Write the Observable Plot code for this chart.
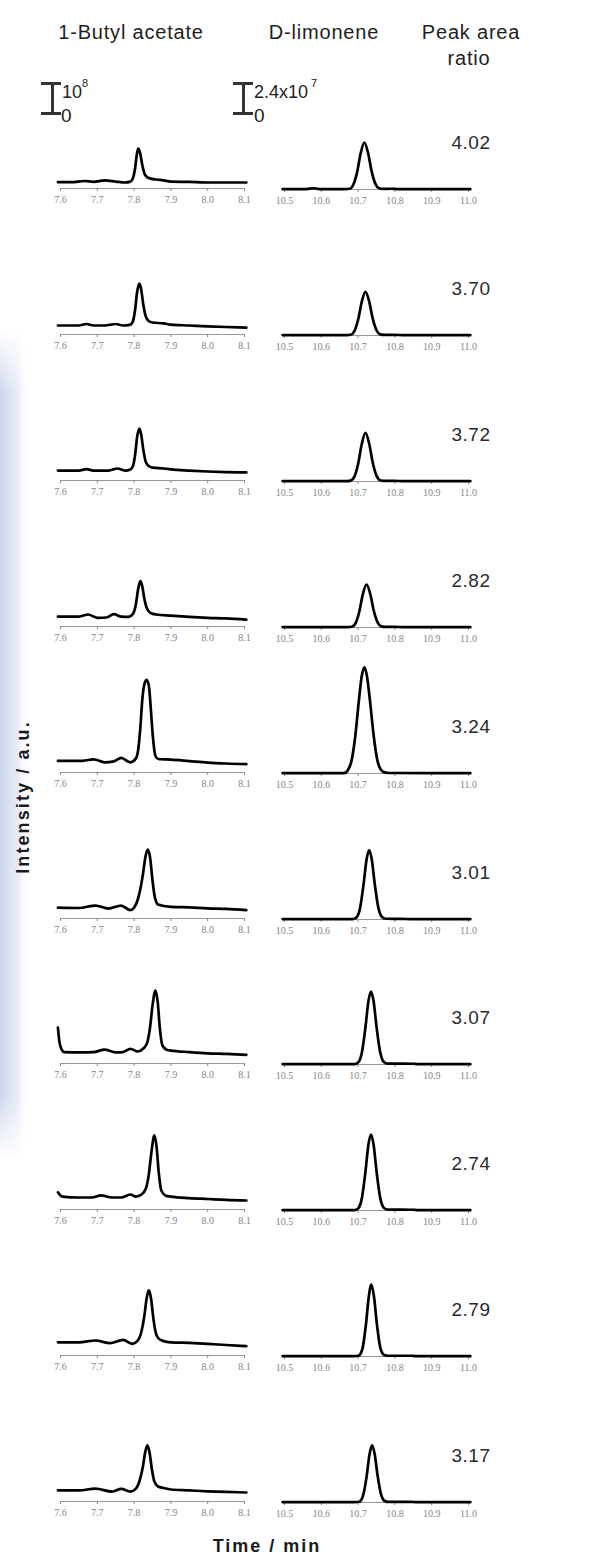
<!DOCTYPE html>
<html>
<head>
<meta charset="utf-8">
<script src="https://cdn.jsdelivr.net/npm/d3@7"></script>
<script src="https://cdn.jsdelivr.net/npm/@observablehq/plot@0.6"></script>
<style>
html, body { margin: 0; padding: 0; background: #fff; }
#root { position: relative; width: 605px; height: 1558px; overflow: hidden; background: #fff; }
#root > svg { position: absolute; }
</style>
</head>
<body>
<div id="root"></div>
<script>
// ---------------- DATA ----------------
const columnTitles = ["1-Butyl acetate", "D-limonene"];
const ratioTitle = ["Peak area", "ratio"];
const xAxisTitle = "Time / min";
const yAxisTitle = "Intensity / a.u.";
const butylTicks = [7.6, 7.7, 7.8, 7.9, 8.0, 8.1];
const limoneneTicks = [10.5, 10.6, 10.7, 10.8, 10.9, 11.0];
const peakAreaRatios = [4.02, 3.70, 3.72, 2.82, 3.24, 3.01, 3.07, 2.74, 2.79, 3.17];
// scale bars (intensity in units of 10^6)
const butylScaleSpan = 100;     // 10^8
const limoneneScaleSpan = 24;   // 2.4x10^7

// chromatograms: [time (min), intensity (10^6 a.u.)]
const butyl1 = [[7.593,21],[7.63,21],[7.665,25],[7.69,22],[7.72,27],[7.75,23],[7.775,20],[7.79,23],[7.797,35],[7.803,70],[7.807,110],[7.811,133],[7.816,120],[7.822,80],[7.828,50],[7.835,38],[7.845,33],[7.86,30],[7.88,27],[7.90,23],[7.95,22],[8.0,20],[8.105,20]];
const butyl2 = [[7.593,30],[7.65,30],[7.67,35],[7.69,30],[7.72,30],[7.75,35],[7.77,30],[7.79,33],[7.797,45],[7.803,85],[7.808,140],[7.814,170],[7.819,152],[7.825,100],[7.831,63],[7.838,47],[7.85,40],[7.88,37],[7.90,33],[7.95,30],[8.0,27],[8.05,25],[8.105,23]];
const butyl3 = [[7.593,33],[7.65,33],[7.67,38],[7.69,33],[7.73,33],[7.755,40],[7.775,33],[7.79,37],[7.797,48],[7.803,88],[7.808,143],[7.814,173],[7.819,155],[7.825,103],[7.831,65],[7.838,50],[7.85,43],[7.88,40],[7.90,37],[7.95,33],[8.0,30],[8.05,28],[8.105,27]];
const butyl4 = [[7.593,33],[7.65,33],[7.675,40],[7.70,29],[7.725,30],[7.745,41],[7.765,33],[7.785,32],[7.797,42],[7.805,75],[7.811,125],[7.817,151],[7.822,135],[7.828,92],[7.835,60],[7.845,45],[7.86,40],[7.90,36],[7.95,32],[8.0,29],[8.05,27],[8.105,23]];
const butyl5 = [[7.593,39],[7.66,39],[7.69,44],[7.72,34],[7.745,37],[7.765,49],[7.79,34],[7.805,47],[7.811,75],[7.817,150],[7.822,239],[7.828,295],[7.834,309],[7.84,290],[7.845,220],[7.849,150],[7.853,95],[7.858,55],[7.866,45],[7.88,44],[7.90,43],[7.95,38],[8.0,33],[8.05,30],[8.105,28]];
const butyl6 = [[7.593,36],[7.65,35],[7.695,43],[7.73,33],[7.765,43],[7.79,28],[7.805,47],[7.815,87],[7.824,147],[7.831,207],[7.837,230],[7.843,207],[7.85,127],[7.856,73],[7.865,47],[7.90,39],[7.95,37],[8.0,34],[8.05,32],[8.105,28]];
const butyl7 = [[7.593,120],[7.597,73],[7.603,47],[7.61,38],[7.65,37],[7.69,38],[7.72,46],[7.75,37],[7.77,38],[7.79,49],[7.81,40],[7.825,50],[7.835,67],[7.843,117],[7.85,193],[7.858,243],[7.864,207],[7.87,117],[7.877,60],[7.89,45],[7.90,43],[7.95,38],[8.0,34],[8.05,32],[8.105,29]];
const butyl8 = [[7.593,57],[7.605,43],[7.65,40],[7.685,40],[7.71,47],[7.74,40],[7.765,40],[7.79,50],[7.805,43],[7.82,50],[7.832,70],[7.84,117],[7.847,190],[7.855,247],[7.861,210],[7.867,123],[7.874,63],[7.885,47],[7.90,43],[7.95,38],[8.0,35],[8.05,32],[8.105,30]];
const butyl9 = [[7.593,44],[7.65,44],[7.695,50],[7.735,41],[7.77,52],[7.795,39],[7.81,50],[7.82,80],[7.828,133],[7.834,190],[7.84,217],[7.846,190],[7.852,127],[7.858,80],[7.866,57],[7.88,48],[7.90,44],[7.95,42],[8.0,39],[8.05,35],[8.105,31]];
const butyl10 = [[7.593,37],[7.65,37],[7.695,43],[7.74,33],[7.765,42],[7.79,33],[7.805,43],[7.815,70],[7.824,117],[7.83,163],[7.836,187],[7.842,163],[7.848,110],[7.855,67],[7.865,50],[7.88,45],[7.90,40],[7.95,37],[8.0,34],[8.05,32],[8.105,30]];

const limonene1 = [[10.495,0.3],[10.56,0.3],[10.578,1.0],[10.595,0.3],[10.665,0.3],[10.677,0.6],[10.687,3.8],[10.697,13.5],[10.707,29],[10.717,37.6],[10.727,29.3],[10.737,14.3],[10.747,4.5],[10.757,1.0],[10.767,0.5],[10.79,0.6],[10.81,0.3],[11.005,0.3]];
const limonene2 = [[10.495,0.3],[10.67,0.3],[10.68,0.6],[10.69,3.5],[10.70,12.6],[10.71,27],[10.72,35],[10.73,27.3],[10.74,13.3],[10.75,4.2],[10.76,0.9],[10.77,0.5],[10.80,0.5],[10.82,0.3],[11.005,0.3]];
const limonene3 = [[10.495,0.3],[10.67,0.3],[10.68,0.7],[10.69,3.9],[10.70,14],[10.71,30],[10.72,39],[10.73,30.4],[10.74,14.8],[10.75,4.7],[10.76,1.0],[10.77,0.5],[10.80,0.5],[10.82,0.3],[11.005,0.3]];
const limonene4 = [[10.495,0.3],[10.673,0.3],[10.683,0.6],[10.693,3.4],[10.703,12.4],[10.713,26.7],[10.723,34.4],[10.733,26.8],[10.743,13],[10.753,4.1],[10.763,0.9],[10.773,0.5],[10.80,0.5],[10.82,0.3],[11.005,0.3]];
const limonene5 = [[10.495,0.3],[10.662,0.3],[10.672,2.5],[10.682,10],[10.692,29],[10.702,58],[10.71,78],[10.717,85],[10.724,78],[10.732,59],[10.742,31],[10.752,11],[10.762,3],[10.772,0.9],[10.785,0.4],[11.005,0.3]];
const limonene6 = [[10.495,0.3],[10.685,0.3],[10.695,1.5],[10.705,8.7],[10.715,28.4],[10.723,48],[10.73,55.6],[10.737,48.4],[10.745,29],[10.755,9.5],[10.765,2],[10.775,0.6],[10.82,0.5],[10.84,0.3],[11.005,0.3]];
const limonene7 = [[10.495,0.3],[10.69,0.3],[10.70,1.6],[10.71,9.2],[10.72,29.8],[10.728,50.5],[10.735,58.4],[10.742,50.8],[10.75,30.4],[10.76,9.9],[10.77,2],[10.78,0.7],[10.85,0.6],[10.86,0.3],[11.005,0.3]];
const limonene8 = [[10.495,0.3],[10.69,0.3],[10.70,1.6],[10.71,9.5],[10.72,31],[10.728,52.6],[10.735,60.8],[10.742,52.9],[10.75,31.6],[10.76,10.3],[10.77,2.1],[10.78,0.7],[10.85,0.6],[10.86,0.3],[11.005,0.3]];
const limonene9 = [[10.495,0.3],[10.691,0.3],[10.701,0.6],[10.711,5.4],[10.721,24.8],[10.729,47.8],[10.736,57.6],[10.743,48.4],[10.751,26],[10.761,6.3],[10.771,1.2],[10.781,0.6],[10.845,0.6],[10.855,0.3],[11.005,0.3]];
const limonene10 = [[10.495,0.3],[10.693,0.3],[10.703,0.6],[10.713,5],[10.723,20.5],[10.731,38.5],[10.738,45.8],[10.745,38.8],[10.753,21.5],[10.763,5.8],[10.773,1.1],[10.783,0.5],[10.845,0.5],[10.855,0.3],[11.005,0.3]];

const butylTraces = [butyl1, butyl2, butyl3, butyl4, butyl5, butyl6, butyl7, butyl8, butyl9, butyl10];
const limoneneTraces = [limonene1, limonene2, limonene3, limonene4, limonene5, limonene6, limonene7, limonene8, limonene9, limonene10];

// ---------------- LAYOUT ----------------
const root = document.getElementById("root");
const AXIS0 = 188, STEP = 145.9;
const PANEL_H = 145, MT = 23, MB = 22, PLOT_H = PANEL_H - MT - MB;
const SPAN_PX = 184;       // 0.5 min
const BAR_PX = 30;         // scale bar length in px

const cols = [
  { left: 30, ml: 30, mr: 11, domain: [7.6, 8.1], ticks: butylTicks, traces: butylTraces,
    unitsPerPx: butylScaleSpan / BAR_PX, axisShift: 0,
    bar: { xv: 52, xa: 41, xb: 61, yBottom: 113 } },
  { left: 228, ml: 56, mr: 12, domain: [10.5, 11.0], ticks: limoneneTicks, traces: limoneneTraces,
    unitsPerPx: limoneneScaleSpan / BAR_PX, axisShift: 1,
    bar: { xv: 243, xa: 233, xb: 253, yBottom: 113 } }
];
const spans = [butylScaleSpan, limoneneScaleSpan];

function axisY(i) { return AXIS0 + i * STEP; }

// watermark band (below everything)
const wm = d3.select(root).append("svg")
  .attr("width", 605).attr("height", 1558)
  .style("left", "0px").style("top", "0px");
const defs = wm.append("defs");
const g = defs.append("linearGradient").attr("id", "wm").attr("x1", 0).attr("x2", 1).attr("y1", 0).attr("y2", 0);
g.append("stop").attr("offset", "0%").attr("stop-color", "#b9c6e6").attr("stop-opacity", 0.75);
g.append("stop").attr("offset", "65%").attr("stop-color", "#cfd8ee").attr("stop-opacity", 0.5);
g.append("stop").attr("offset", "100%").attr("stop-color", "#ffffff").attr("stop-opacity", 0);
const gv = defs.append("linearGradient").attr("id", "wmv").attr("x1", 0).attr("x2", 0).attr("y1", 0).attr("y2", 1);
gv.append("stop").attr("offset", "0%").attr("stop-color", "#fff").attr("stop-opacity", 0);
gv.append("stop").attr("offset", "8%").attr("stop-color", "#fff").attr("stop-opacity", 1);
gv.append("stop").attr("offset", "92%").attr("stop-color", "#fff").attr("stop-opacity", 1);
gv.append("stop").attr("offset", "100%").attr("stop-color", "#fff").attr("stop-opacity", 0);
defs.append("mask").attr("id", "wmm").append("rect")
  .attr("x", 0).attr("y", 330).attr("width", 40).attr("height", 830).attr("fill", "url(#wmv)");
wm.append("rect").attr("x", 0).attr("y", 330).attr("width", 28).attr("height", 830)
  .attr("fill", "url(#wm)").attr("mask", "url(#wmm)");

cols.forEach((c, ci) => {
  const width = c.ml + SPAN_PX + c.mr;
  const x0px = c.left + c.ml; // page x of domain[0]
  const pxToT = px => c.domain[0] + (px - x0px) * (c.domain[1] - c.domain[0]) / SPAN_PX;
  const ymax = PLOT_H * c.unitsPerPx;
  c.traces.forEach((trace, i) => {
    const ay = axisY(i) + c.axisShift;
    const marks = [
      Plot.ruleY([0], { stroke: "#8c8c8c", strokeWidth: 0.9 }),
      Plot.line(trace, { x: d => d[0], y: d => d[1], stroke: "#000", strokeWidth: 2.7,
        curve: "monotone-x", strokeLinejoin: "round", strokeLinecap: "round" })
    ];
    if (i === 0) {
      const yb = (ay - c.bar.yBottom) * c.unitsPerPx;
      const yt = yb + spans[ci];
      const bars = [{ y: yb }, { y: yt }];
      marks.push(
        Plot.ruleX([pxToT(c.bar.xv)], { y1: yb, y2: yt, stroke: "#333", strokeWidth: 3 }),
        Plot.ruleY(bars, { y: "y", x1: pxToT(c.bar.xa), x2: pxToT(c.bar.xb), stroke: "#333", strokeWidth: 3 })
      );
    }
    const svg = Plot.plot({
      width, height: PANEL_H,
      marginLeft: c.ml, marginRight: c.mr, marginTop: MT, marginBottom: MB,
      style: { background: "transparent", overflow: "visible",
        fontFamily: "'Liberation Serif', 'DejaVu Serif', serif", fontSize: "10px", color: "#858585" },
      x: { domain: c.domain, ticks: c.ticks, tickFormat: d => d.toFixed(1), tickSize: 3,
        tickPadding: 4, label: null },
      y: { domain: [0, ymax], axis: null },
      marks
    });
    svg.style.position = "absolute";
    svg.style.left = c.left + "px";
    svg.style.top = (ay - (PANEL_H - MB)) + "px";
    root.appendChild(svg);
  });
});

// ---------------- TEXT OVERLAY ----------------
const tx = d3.select(root).append("svg")
  .attr("width", 605).attr("height", 1558)
  .style("left", "0px").style("top", "0px").style("pointer-events", "none")
  .style("font-family", "'Liberation Sans', Arial, sans-serif");

const hdr = { size: 20, ls: 0.8, fill: "#1e1e1e" };
[[columnTitles[0], 131, 39], [columnTitles[1], 324, 39], [ratioTitle[0], 471, 39], [ratioTitle[1], 469, 65]]
  .forEach(([t, x, y]) => {
    tx.append("text").attr("x", x).attr("y", y).attr("text-anchor", "middle")
      .attr("font-size", hdr.size).attr("letter-spacing", hdr.ls).attr("fill", hdr.fill).text(t);
  });

// ratio values
peakAreaRatios.forEach((r, i) => {
  tx.append("text").attr("x", 471).attr("y", axisY(i) - 39).attr("text-anchor", "middle")
    .attr("font-size", 19).attr("letter-spacing", 0.5).attr("fill", "#2a2a2a").text(r.toFixed(2));
});

// scale bar labels
function lab(x, y, s, size) {
  tx.append("text").attr("x", x).attr("y", y).attr("font-size", size).attr("fill", "#222").text(s);
}
lab(62, 98, "10", 18); lab(82, 87, "8", 11); lab(61, 122, "0", 19);
lab(254, 98, "2.4x10", 18); lab(311, 87, "7", 11); lab(254, 122, "0", 19);

// axis titles
tx.append("text").attr("x", 267).attr("y", 1552).attr("text-anchor", "middle")
  .attr("font-size", 18).attr("font-weight", "bold").attr("letter-spacing", 2)
  .attr("fill", "#1a1a1a").text(xAxisTitle);
tx.append("text").attr("transform", "translate(29,797) rotate(-90)").attr("text-anchor", "middle")
  .attr("font-size", 18).attr("font-weight", "bold").attr("letter-spacing", 2.1)
  .attr("fill", "#1a1a1a").text(yAxisTitle);
</script>
</body>
</html>
